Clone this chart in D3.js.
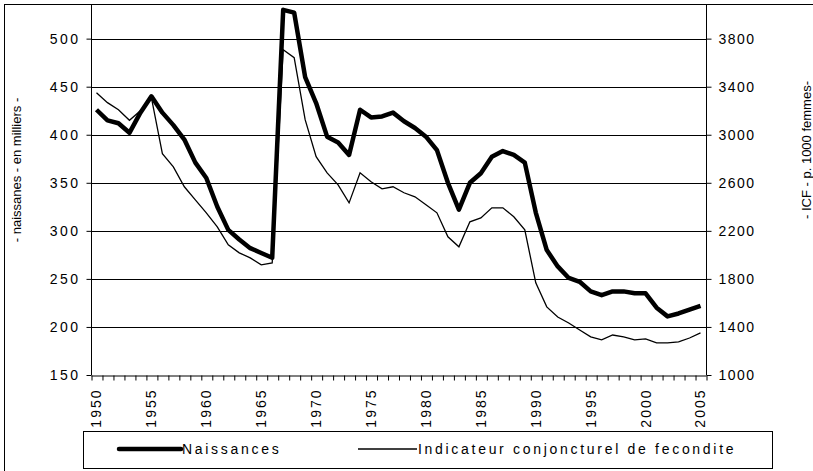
<!DOCTYPE html>
<html>
<head>
<meta charset="utf-8">
<script src="https://cdn.jsdelivr.net/npm/d3@7"></script>
<style>
  body { margin: 0; background: #fff; }
  svg { display: block; font-family: "Liberation Sans", Arial, sans-serif; }
  .axis path, .axis line { stroke: #000; }
  .axis text { font-size: 14px; letter-spacing: 2.5px; fill: #000; }
</style>
</head>
<body>
<svg id="chart" width="813" height="471"></svg>
<script>
// data
const years = d3.range(1950, 2006);

const naissances = [
  426, 415, 412, 402, 423, 440, 423, 410, 395, 371,
  355, 325, 301, 291, 282, 277, 272, 530, 527, 460,
  433, 398, 392, 379, 426, 418, 419, 423, 414, 407,
  398, 384, 350, 322, 350, 360, 377, 383, 379, 371,
  319, 280, 263, 251, 247, 237, 233, 237, 237, 235,
  235, 220, 211, 214, 218, 222
];

const icf = [
  3350, 3267, 3208, 3120, 3200, 3308, 2842, 2733, 2567, 2458,
  2350, 2233, 2083, 2017, 1975, 1917, 1933, 3708, 3642, 3125,
  2817, 2683, 2583, 2433, 2683, 2608, 2550, 2567, 2517, 2483,
  2417, 2350, 2150, 2067, 2275, 2308, 2392, 2392, 2317, 2208,
  1767, 1567, 1483, 1433, 1375, 1317, 1292, 1333, 1317, 1292,
  1300, 1267, 1267, 1275, 1308, 1350
];

const leftTicks = [150, 200, 250, 300, 350, 400, 450, 500];
const rightTicks = [1000, 1400, 1800, 2200, 2600, 3000, 3400, 3800];
const labelYears = [1950, 1955, 1960, 1965, 1970, 1975, 1980, 1985, 1990, 1995, 2000, 2005];

const leftTitle = '- naissanes - en milliers -';
const rightTitle = '- ICF - p. 1000 femmes-';
const seriesNames = ['Naissances', 'Indicateur conjoncturel de fecondite'];

const svg = d3.select('#chart');

const plot = {left: 91, right: 706, top: 5, bottom: 375};

// outer frame
svg.append('rect')
  .attr('x', 4.5).attr('y', 4.5)
  .attr('width', 830).attr('height', 490)
  .attr('fill', 'none').attr('stroke', '#000');

// scales
const x = d3.scaleLinear()
  .domain([1950, 2006])
  .range([plot.left, plot.right]);

const yL = d3.scaleLinear()
  .domain([150, 535])
  .range([plot.bottom, plot.top]);

const yR = d3.scaleLinear()
  .domain([1000, 4080])
  .range([plot.bottom, plot.top]);

// grid
svg.append('g')
  .selectAll('line')
  .data(leftTicks.slice(1))
  .join('line')
  .attr('x1', plot.left).attr('x2', plot.right)
  .attr('y1', d => Math.round(yL(d)) + 0.5)
  .attr('y2', d => Math.round(yL(d)) + 0.5)
  .attr('stroke', '#000');

// left axis
const gL = svg.append('g')
  .attr('class', 'axis')
  .attr('transform', `translate(${plot.left + 0.5},0)`)
  .call(d3.axisLeft(yL).tickValues(leftTicks).tickSize(5).tickPadding(6).tickSizeOuter(0));
gL.select('.domain').attr('d', `M0,${plot.top}V${plot.bottom}`);

// right axis
const gR = svg.append('g')
  .attr('class', 'axis')
  .attr('transform', `translate(${plot.right + 0.5},0)`)
  .call(d3.axisRight(yR).tickValues(rightTicks).tickSize(5).tickPadding(7)
    .tickFormat(d3.format('d')).tickSizeOuter(0));
gR.select('.domain').attr('d', `M0,${plot.top}V${plot.bottom}`);
gR.selectAll('text').style('letter-spacing', '1.5px');

// bottom axis with a tick between each year
const gX = svg.append('g')
  .attr('class', 'axis')
  .attr('transform', `translate(0,${plot.bottom + 0.5})`)
  .call(d3.axisBottom(x).tickValues(d3.range(1950, 2007)).tickSize(5).tickFormat('').tickSizeOuter(0));
gX.selectAll('.tick line').attr('transform', 'translate(0.5,0)');

gX.selectAll('.year-label')
  .data(labelYears)
  .join('text')
  .attr('class', 'year-label')
  .attr('transform', d => `translate(${x(d + 0.5)},13) rotate(-90)`)
  .attr('text-anchor', 'end')
  .attr('dy', '0.35em')
  .style('font-size', '14px')
  .style('letter-spacing', '2px')
  .text(d => d);

// lines
const lineL = d3.line()
  .x((d, i) => x(years[i] + 0.5))
  .y(d => yL(d));

const lineR = d3.line()
  .x((d, i) => x(years[i] + 0.5))
  .y(d => yR(d));

svg.append('path')
  .datum(icf)
  .attr('d', lineR)
  .attr('fill', 'none')
  .attr('stroke', '#000')
  .attr('stroke-width', 1.3);

svg.append('path')
  .datum(naissances)
  .attr('d', lineL)
  .attr('fill', 'none')
  .attr('stroke', '#000')
  .attr('stroke-width', 4.5)
  .attr('stroke-linejoin', 'round');

// axis titles
svg.append('text')
  .attr('transform', 'translate(16,170) rotate(-90)')
  .attr('text-anchor', 'middle')
  .attr('dy', '0.35em')
  .style('font-size', '13px')
  .text(leftTitle);

svg.append('text')
  .attr('transform', 'translate(806,150) rotate(-90)')
  .attr('text-anchor', 'middle')
  .attr('dy', '0.35em')
  .style('font-size', '13px')
  .text(rightTitle);

// legend
const legend = svg.append('g');
legend.append('rect')
  .attr('x', 83.5).attr('y', 431.5)
  .attr('width', 689).attr('height', 37)
  .attr('fill', '#fff').attr('stroke', '#000');

const legendItems = [
  {name: seriesNames[0], x1: 119, x2: 181, w: 4.5},
  {name: seriesNames[1], x1: 358, x2: 417, w: 1.3}
];

legendItems.forEach(d => {
  legend.append('line')
    .attr('x1', d.x1).attr('x2', d.x2)
    .attr('y1', 449).attr('y2', 449)
    .attr('stroke', '#000')
    .attr('stroke-width', d.w)
    .attr('stroke-linecap', d.w > 2 ? 'round' : 'butt');
  legend.append('text')
    .attr('x', d.x2 + 1)
    .attr('y', 449)
    .attr('dy', '0.35em')
    .style('font-size', '14px')
    .style('letter-spacing', '2.7px')
    .text(d.name);
});
</script>
</body>
</html>
